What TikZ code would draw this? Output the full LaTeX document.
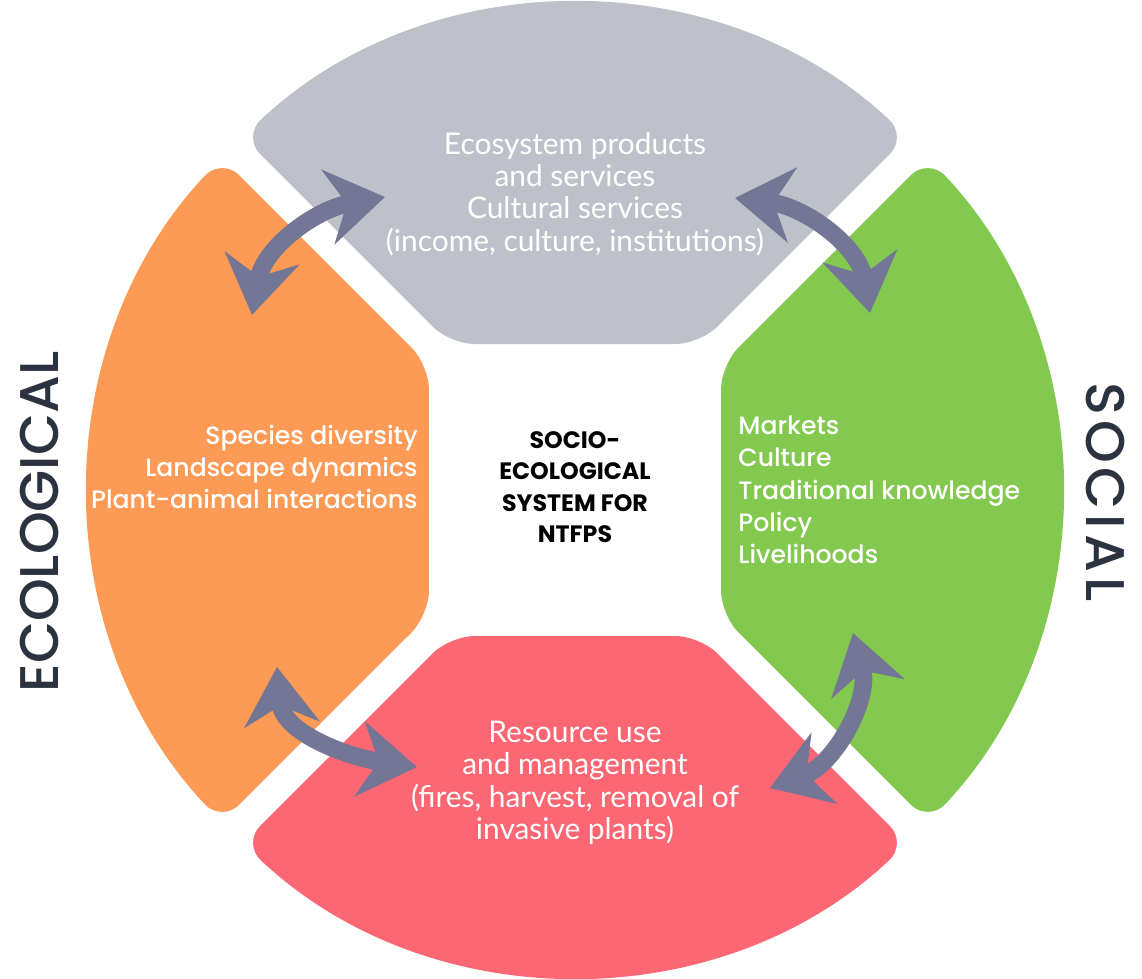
\documentclass[tikz,border=0pt]{standalone}
\usepackage{fontspec}
\setmainfont{Lato}
\newfontfamily\gothfont{Poppins}
\newfontfamily\gothmed{Poppins}[UprightFont={* Medium}]
\usetikzlibrary{arrows.meta}

\definecolor{secgray}{HTML}{BFC1CA}
\definecolor{secorange}{HTML}{FD9A56}
\definecolor{secgreen}{HTML}{83C94F}
\definecolor{secred}{HTML}{FD6673}
\definecolor{arrowblue}{HTML}{737695}
\definecolor{labeldark}{HTML}{2C3340}

\begin{document}
\begin{tikzpicture}[x=0.02cm, y=0.02cm,
    sector/.style={rounded corners=14pt},
    sectext/.style={text=white, inner sep=0pt, font=\fontsize{17}{18.4}\selectfont},
    sidetext/.style={text=white, inner sep=0pt, font=\gothmed\fontsize{14.3}{18.4}\selectfont},
    bigword/.style={text=labeldark, font=\gothmed\fontsize{31}{33}\selectfont},
    swap/.style={draw=arrowblue, line width=10pt,
      {Stealth[length=1.15cm, width=1.5cm]}-{Stealth[length=1.15cm, width=1.5cm]}}]
  \useasboundingbox (-575,-488) rectangle (567,490);

  % four sectors, one per quarter turn
  \foreach \ang/\col in {0/secgray, 90/secorange, 180/secred, 270/secgreen}
    \fill[\col, sector, rotate=\ang] (-125,146) -- (125,146) -- (46.76:485)
      arc[start angle=46.76, end angle=133.24, radius=485] -- cycle;

  \node[sectext, align=center] (prod) at (0,296)
    {Ecosystem products\\and services\\Cultural services\\(income, culture, institutions)};
  \node[sidetext, align=right, anchor=east] (eco) at (-157,23)
    {Species diversity\\Landscape dynamics\\Plant-animal interactions};
  \node[sidetext, align=left, anchor=west] (soc) at (163,0)
    {Markets\\Culture\\Traditional knowledge\\Policy\\Livelihoods};
  \node[sectext, align=center] (use) at (0,-293)
    {Resource use\\and management\\(fires, harvest, removal of\\invasive plants)};
  \node[align=center, font=\gothfont\bfseries\fontsize{13.5}{17.8}\selectfont] (core) at (0,3)
    {SOCIO-\\ECOLOGICAL\\SYSTEM FOR\\NTFPS};

  \node[bigword, rotate=90] (ecolabel) at (-535,-32) {ECOLOGICAL};
  \node[bigword, rotate=-90] (soclabel) at (530,-2) {\addfontfeatures{LetterSpace=9}SOCIAL};

  % double arrows across the gaps
  \coordinate (tl-o) at (-323,175);
  \coordinate (tl-g) at (-190,293);
  \coordinate (tr-g) at (160,292);
  \coordinate (tr-s) at (295,177);
  \coordinate (bl-o) at (-298,-177);
  \coordinate (bl-r) at (-158,-277);
  \coordinate (br-s) at (278,-143);
  \coordinate (br-r) at (195,-298);

  \draw[swap] (tl-o) to[out=80, in=190] (tl-g);
  \draw[swap] (tr-g) to[out=-7, in=100] (tr-s);
  \draw[swap] (bl-o) to[out=-85, in=172] (bl-r);
  \draw[swap] (br-s) to[out=-75, in=20] (br-r);
\end{tikzpicture}
\end{document}
